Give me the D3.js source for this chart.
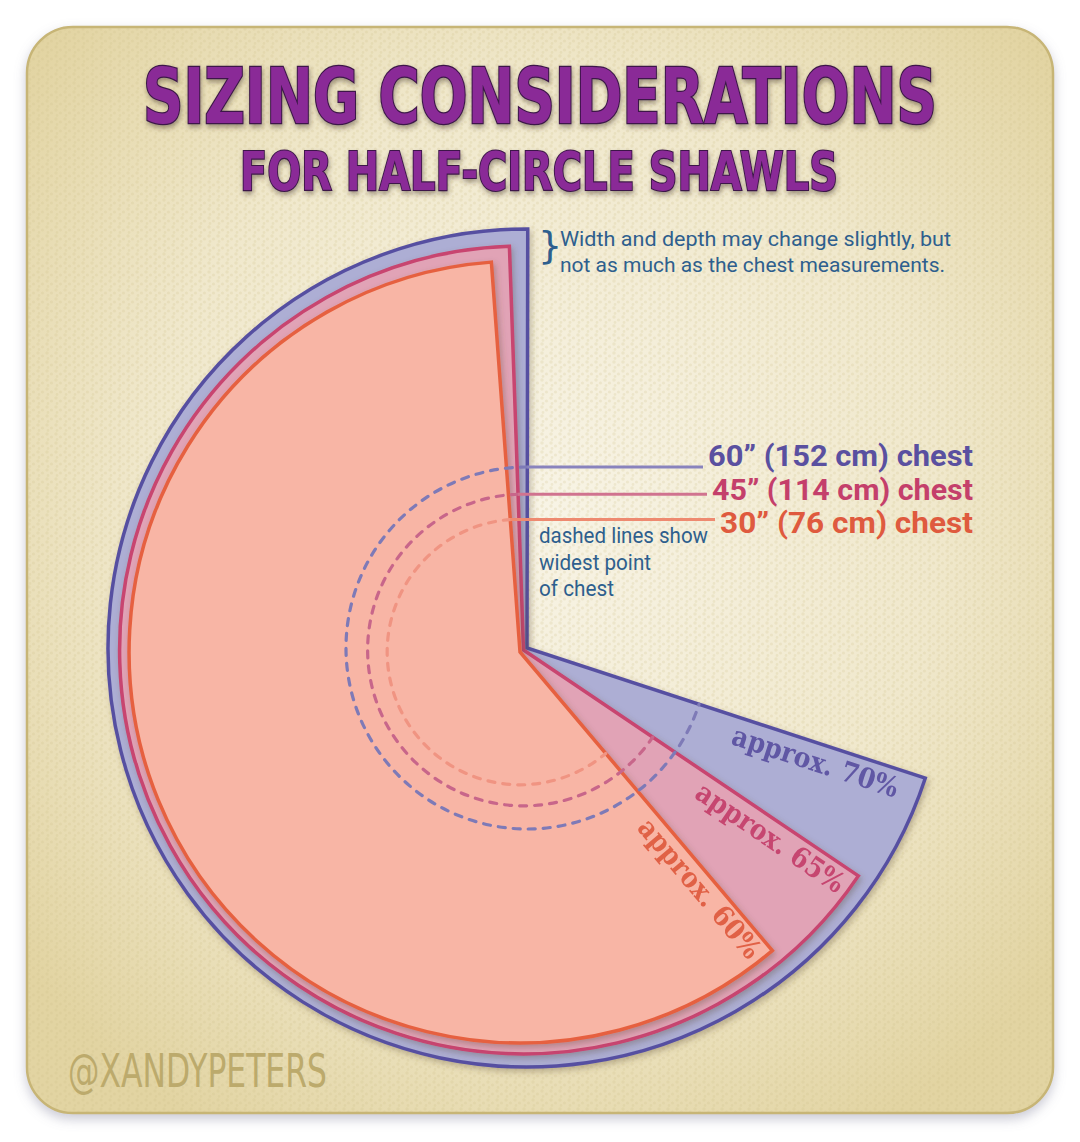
<!DOCTYPE html>
<html><head><meta charset="utf-8">
<script src="https://cdn.jsdelivr.net/npm/d3@7"></script>
<style>html,body{margin:0;padding:0;background:#fff;}svg{display:block;}</style>
</head><body>
<script>
// ---------- DATA ----------
const sizeLabels = ["60\u201D (152 cm) chest", "45\u201D (114 cm) chest", "30\u201D (76 cm) chest"];
const pctLabels  = ["approx. 70%", "approx. 65%", "approx. 60%"];
const pct        = [70, 65, 60];          // share of full circle
const depth      = [100, 96.4, 93.3];     // relative outer radius (shawl depth)
const chest      = [43.2, 37.2, 31.7];    // relative radius of widest chest point (dashed)
const tiltDeg    = [0.1, -2, -4.2];       // rotation of the top edge
const titleLines = ["SIZING CONSIDERATIONS", "FOR HALF-CIRCLE SHAWLS"];
const noteLines  = ["Width and depth may change slightly, but", "not as much as the chest measurements."];
const dashNote   = ["dashed lines show", "widest point", "of chest"];

// ---------- LAYOUT / STYLE ----------
const W = 1080, H = 1142;
const apex = [[527, 648], [523.5, 650], [520, 652]];
const labelY = [466, 500, 533];
const labelW = [265, 261, 253];
const noteW = [391, 385];
const dashW = [169, 112, 75];
const titleBox = [{x: 143, y: 123, w: 794, fs: 76, sw: 2.5}, {x: 240, y: 190, w: 598, fs: 54, sw: 2.2}];
const fills   = ["#adaed4", "#e1a3b6", "#f8b5a5"];
const strokes = ["#5750a1", "#c8446f", "#e6613f"];
const dashCol = ["#7e7ab7", "#c8668a", "#f09482"];
const lineCol = ["#8983bd", "#d0738f", "#ee8a70"];
const textCol = ["#5a50a0", "#c43f6b", "#df5a3e"];
const pctPos  = [[396, 28], [396, 27], [383, 25]];
const rScale = d3.scaleLinear().domain([0, 100]).range([0, 419]);
const rad = d => d * Math.PI / 180;

const svg = d3.select("body").append("svg").attr("width", W).attr("height", H);
const defs = svg.append("defs");

const pg = defs.append("radialGradient").attr("id", "panelGrad")
  .attr("cx", "50%").attr("cy", "45%").attr("r", "65%");
pg.append("stop").attr("offset", "0%").attr("stop-color", "#f8f4e6");
pg.append("stop").attr("offset", "60%").attr("stop-color", "#f0e8cc");
pg.append("stop").attr("offset", "100%").attr("stop-color", "#e2d4a2");

const pat = defs.append("pattern").attr("id", "stipple").attr("width", 9).attr("height", 9)
  .attr("patternUnits", "userSpaceOnUse");
[[2, 2, 1.8], [6.5, 5, 1.6], [3, 7.5, 1.4]].forEach(([x, y, r]) =>
  pat.append("circle").attr("cx", x).attr("cy", y).attr("r", r).attr("fill", "#cdbd88").attr("opacity", 0.22));

const sh = defs.append("filter").attr("id", "panelShadow").attr("x", "-5%").attr("y", "-5%").attr("width", "110%").attr("height", "110%");
sh.append("feDropShadow").attr("dx", 0).attr("dy", 5).attr("stdDeviation", 6)
  .attr("flood-color", "#8a8aa0").attr("flood-opacity", 0.45);

const ss = defs.append("filter").attr("id", "secShadow").attr("x", "-10%").attr("y", "-10%").attr("width", "120%").attr("height", "120%");
ss.append("feDropShadow").attr("dx", 2).attr("dy", 3).attr("stdDeviation", 3)
  .attr("flood-color", "#5a4a30").attr("flood-opacity", 0.35);

const ts = defs.append("filter").attr("id", "titleShadow").attr("filterUnits", "userSpaceOnUse")
  .attr("x", 0).attr("y", 30).attr("width", W).attr("height", 200);
ts.append("feDropShadow").attr("dx", 1).attr("dy", 3).attr("stdDeviation", 2.5)
  .attr("flood-color", "#3a2a20").attr("flood-opacity", 0.45);

// panel
svg.append("rect").attr("x", 27).attr("y", 27).attr("width", 1026).attr("height", 1086).attr("rx", 46)
  .attr("fill", "url(#panelGrad)").attr("stroke", "#c7b576").attr("stroke-width", 2.5)
  .attr("filter", "url(#panelShadow)");
svg.append("rect").attr("x", 28).attr("y", 28).attr("width", 1024).attr("height", 1084).attr("rx", 45)
  .attr("fill", "url(#stipple)");

// title (horizontally condensed to the reference width)
const titleG = svg.append("g").attr("filter", "url(#titleShadow)");
titleLines.forEach((s, i) => {
  const b = titleBox[i];
  const t = titleG.append("text").attr("x", 0).attr("y", 0)
    .attr("font-family", "'DejaVu Sans Condensed','DejaVu Sans',sans-serif").attr("font-weight", "bold")
    .attr("font-size", b.fs).attr("fill", "#8a2c97").attr("stroke", "#3c1848").attr("stroke-width", b.sw)
    .attr("paint-order", "stroke").text(s);
  const nat = t.node().getComputedTextLength();
  t.attr("transform", `translate(${b.x},${b.y}) scale(${b.w / nat},1)`);
});

// sectors
const idx = d3.range(pct.length);
const geom = idx.map(i => {
  const end = 2 * Math.PI + rad(tiltDeg[i]);
  const start = end - 2 * Math.PI * pct[i] / 100;
  return { i, cx: apex[i][0], cy: apex[i][1], start, end, r: rScale(depth[i]), rc: rScale(chest[i]) };
});

const arc = d3.arc().innerRadius(0).outerRadius(d => d.r).startAngle(d => d.start).endAngle(d => d.end);
svg.append("g").selectAll("path").data(geom).join("path")
  .attr("transform", d => `translate(${d.cx},${d.cy})`)
  .attr("d", arc)
  .attr("fill", d => fills[d.i]).attr("stroke", d => strokes[d.i]).attr("stroke-width", 3.5)
  .attr("stroke-linejoin", "miter").attr("filter", "url(#secShadow)");

// dashed chest arcs
const dashPath = d => {
  const p = d3.path();
  p.moveTo(d.cx + d.rc * Math.sin(d.end), d.cy - d.rc * Math.cos(d.end));
  p.arc(d.cx, d.cy, d.rc, d.end - Math.PI / 2, d.start - Math.PI / 2, true);
  return p.toString();
};
svg.append("g").selectAll("path").data(geom).join("path")
  .attr("d", dashPath).attr("fill", "none")
  .attr("stroke", d => dashCol[d.i]).attr("stroke-width", 3.2)
  .attr("stroke-dasharray", "7 8").attr("stroke-linecap", "round");

// chest labels with leader lines
const labFont = "Roboto,'DejaVu Sans Condensed',sans-serif";
const labG = svg.append("g");
geom.forEach(d => {
  const w = labelW[d.i];
  const x0 = d.cx + d.rc * Math.sin(d.end), y0 = d.cy - d.rc * Math.cos(d.end);
  labG.append("line").attr("x1", x0).attr("x2", 973 - w - 5).attr("y1", y0).attr("y2", y0)
    .attr("stroke", lineCol[d.i]).attr("stroke-width", 3);
  labG.append("text").attr("x", 973 - w).attr("y", labelY[d.i])
    .attr("textLength", w).attr("lengthAdjust", "spacingAndGlyphs")
    .attr("font-family", labFont).attr("font-weight", "bold")
    .attr("font-size", 30).attr("fill", textCol[d.i]).text(sizeLabels[d.i]);
});

// percentage labels along the lower edges
svg.append("g").selectAll("text").data(geom).join("text")
  .attr("transform", d => `translate(${d.cx},${d.cy}) rotate(${d.start * 180 / Math.PI - 90})`)
  .attr("x", d => pctPos[d.i][0]).attr("y", d => pctPos[d.i][1]).attr("text-anchor", "end")
  .attr("font-family", "'DejaVu Serif Condensed','DejaVu Serif',serif").attr("font-weight", "bold")
  .attr("font-size", 28).attr("fill", d => textCol[d.i]).attr("opacity", 0.92)
  .text(d => pctLabels[d.i]);

// notes
const noteFont = "Roboto,'DejaVu Sans Condensed',sans-serif";
svg.append("text").attr("x", 538).attr("y", 258).attr("font-family", "'DejaVu Sans',sans-serif")
  .attr("font-size", 38).attr("fill", "#2e5f8e").text("}");
svg.append("g").selectAll("text").data(noteLines).join("text")
  .attr("x", 560).attr("y", (d, i) => 246 + i * 25.5)
  .attr("textLength", (d, i) => noteW[i]).attr("lengthAdjust", "spacingAndGlyphs")
  .attr("font-family", noteFont).attr("font-size", 21).attr("fill", "#2e5f8e").text(d => d);
svg.append("g").selectAll("text").data(dashNote).join("text")
  .attr("x", 539).attr("y", (d, i) => 543 + i * 26.5)
  .attr("textLength", (d, i) => dashW[i]).attr("lengthAdjust", "spacingAndGlyphs")
  .attr("font-family", noteFont).attr("font-size", 21.5).attr("fill", "#2e5f8e").text(d => d);

// watermark
svg.append("text").attr("x", 68).attr("y", 1087).attr("textLength", 259).attr("lengthAdjust", "spacingAndGlyphs")
  .attr("font-family", "'DejaVu Sans Condensed','DejaVu Sans',sans-serif").attr("font-size", 47)
  .attr("fill", "#bcaa6c").text("@XANDYPETERS");
</script>
</body></html>
